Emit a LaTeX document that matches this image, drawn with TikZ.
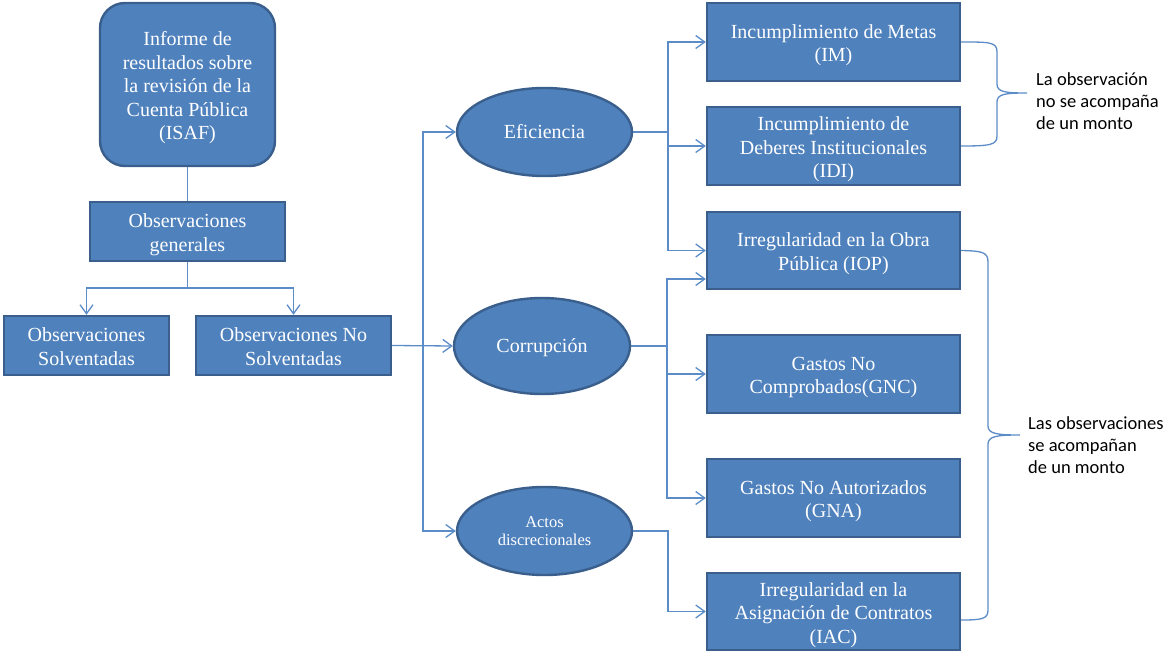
\documentclass[tikz,border=0pt]{standalone}
\usepackage{fontspec}
\setmainfont{Liberation Serif}
\newfontfamily\calib{Carlito}
\usetikzlibrary{shapes.geometric,arrows.meta}
\definecolor{boxfill}{HTML}{4F81BD}
\definecolor{boxline}{HTML}{3A5F8C}
\definecolor{conncol}{HTML}{5B8CC8}
\newcommand\lowered[2][3.5pt]{\raisebox{-#1}[\height][\depth]{\begin{tabular}{@{}c@{}}#2\end{tabular}}}
\begin{document}
\begin{tikzpicture}[x=1pt,y=-1pt,
  bx/.style={draw=boxline, line width=2.4pt, fill=boxfill, text=white,
    font=\fontsize{20}{23.5}\selectfont, inner sep=0pt},
  ell/.style={bx, ellipse},
  ln/.style={draw=conncol, line width=1.3pt},
  arr/.style={ln, -{Straight Barb[length=9pt,width=13pt]}},
  brace/.style={draw=conncol, line width=1.3pt},
  note/.style={font=\calib\fontsize{18.5}{21.7}\selectfont, align=left, anchor=west, inner sep=0pt, text=black}
]
\useasboundingbox (0,0) rectangle (1167,652);

% left column
\node[bx, rounded corners=25pt, minimum width=175pt, minimum height=163pt] (isaf) at (187.5,84.5)
  {\lowered{Informe de\\resultados sobre\\la revisión de la\\Cuenta Pública\\(ISAF)}};
\node[bx, minimum width=195pt, minimum height=59pt] (og) at (187.5,231.5) {\lowered{Observaciones\\generales}};
\node[bx, minimum width=165pt, minimum height=59pt] (os) at (86.5,345.5) {\lowered{Observaciones\\Solventadas}};
\node[bx, minimum width=195pt, minimum height=59pt] (ons) at (293.5,345.5) {\lowered{Observaciones No\\Solventadas}};

% ellipses
\node[ell, minimum width=175pt, minimum height=88pt] (ef) at (544.5,132) {\lowered[2pt]{Eficiencia}};
\node[ell, minimum width=176pt, minimum height=96pt] (co) at (542,346) {\lowered[2pt]{Corrupción}};
\node[ell, minimum width=175pt, minimum height=88pt, font=\fontsize{16.5}{18.5}\selectfont] (ac) at (544.5,531) {\lowered[2pt]{Actos\\discrecionales}};

% right boxes
\node[bx, minimum width=253pt, minimum height=78pt] (im) at (833.5,42) {\lowered{Incumplimiento de Metas\\(IM)}};
\node[bx, minimum width=253pt, minimum height=78pt] (idi) at (833.5,146) {\lowered{Incumplimiento de\\Deberes Institucionales\\(IDI)}};
\node[bx, minimum width=253pt, minimum height=77pt] (iop) at (833.5,250.5) {\lowered{Irregularidad en la Obra\\Pública (IOP)}};
\node[bx, minimum width=253pt, minimum height=78pt] (gnc) at (833.5,374) {\lowered{Gastos No\\Comprobados(GNC)}};
\node[bx, minimum width=253pt, minimum height=78pt] (gna) at (833.5,498) {\lowered{Gastos No Autorizados\\(GNA)}};
\node[bx, minimum width=253pt, minimum height=77pt] (iac) at (833.5,611.5) {\lowered{Irregularidad en la\\Asignación de Contratos\\(IAC)}};

% left connectors
\draw[ln] (isaf.south) -- (og.north);
\coordinate (ogJ) at (187.5,288);
\draw[ln] (og.south) -- (ogJ);
\draw[arr] (ogJ) -| (os.north);
\draw[arr] (ogJ) -| (ons.north);

\coordinate (tr) at (423,346);
\draw[arr] (ons.east) -- (co.west);
\draw[arr] (tr) |- (ef.west);
\draw[arr] (tr) |- (ac.west);

% right connectors
\coordinate (eJ) at (668,132);
\draw[ln] (ef.east) -- (eJ);
\draw[arr] (eJ) |- (im.west);
\draw[arr] (eJ) |- (idi.west);
\draw[arr] (eJ) |- (iop.west);

\coordinate (cJ) at (667,346);
\draw[ln] (co.east) -- (cJ);
\draw[arr] (cJ) |- ([yshift=-28.5pt]iop.west);
\draw[arr] (cJ) |- (gnc.west);
\draw[arr] (cJ) |- (gna.west);

\coordinate (aJ) at (668,531);
\draw[arr] (ac.east) -- (aJ) |- (iac.west);

% braces
\coordinate (b1) at (1027,93);
\draw[brace] (im.east) .. controls (990,42) and (997,42) .. (997,52) -- (997,84)
  .. controls (997,92) and (1005,93) .. (b1)
  .. controls (1005,93) and (997,94) .. (997,102) -- (997,136)
  .. controls (997,145) and (990,146) .. (idi.east);
\coordinate (b2) at (1020,435);
\draw[brace] (iop.east) .. controls (982,251) and (988,252) .. (988,262) -- (988,426)
  .. controls (988,434) and (998,435) .. (b2)
  .. controls (998,435) and (988,436) .. (988,444) -- (988,610)
  .. controls (988,619) and (982,620) .. ([yshift=-8.5pt]iac.east);

\node[note] (t1) at (1036,101) {La observación\\no se acompaña\\de un monto};
\node[note] (t2) at (1028,445) {Las observaciones\\se acompañan\\de un monto};
\end{tikzpicture}
\end{document}
